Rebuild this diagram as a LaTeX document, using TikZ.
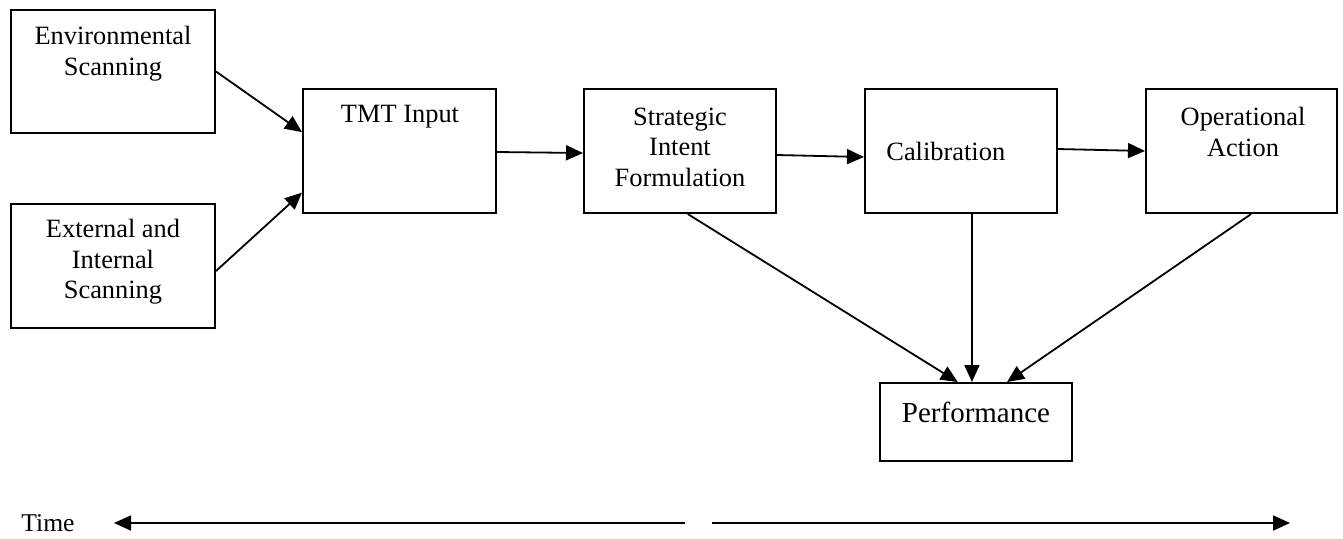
\documentclass[tikz,border=0pt]{standalone}
\usepackage{fontspec}
\setmainfont{Liberation Serif}
\usetikzlibrary{arrows.meta,calc}
\begin{document}
\begin{tikzpicture}[x=0.5pt,y=-0.5pt,
  box/.style={draw,line width=1pt,inner sep=0pt,minimum width=96pt,minimum height=62pt},
  lbl/.style={align=center,font=\fontsize{13.2}{15.3}\selectfont,inner sep=0pt},
  arr/.style={line width=0.9pt,-{Triangle[length=8.5pt,width=7.5pt]}}]
\useasboundingbox (0,0) rectangle (1343,538);
% boxes
\node[box,minimum width=102pt,minimum height=61.5pt] (env) at (113,71.5) {};
\node[box,minimum width=102pt] (ext) at (113,266) {};
\node[box,minimum width=96.5pt] (tmt) at (399.5,151) {};
\node[box] (sif) at (680,151) {};
\node[box] (cal) at (961,151) {};
\node[box,minimum width=95.5pt] (opa) at (1241.5,151) {};
\node[box,minimum height=39pt] (perf) at (976,422) {};
% labels
\node[lbl] (envt) at (113,53.5) {Environmental\\Scanning};
\node[lbl] (extt) at (113,262) {External and\\Internal\\Scanning};
\node[lbl] (tmtt) at (400,117) {TMT Input};
\node[lbl] (sift) at (680,147) {Strategic\\Intent\\Formulation};
\node[lbl,anchor=west] (calt) at (886,151) {Calibration};
\node[lbl] (opat) at (1243,132) {Operational\\Action};
\node[lbl,font=\fontsize{14.5}{17}\selectfont] (perft) at (976,412) {Performance};
\node[lbl,font=\fontsize{12.8}{15}\selectfont] (time) at (48,523) {Time};
% connectors
\draw[arr] (env.east) -- ($(tmt.north west)!0.35!(tmt.south west)$);
\draw[arr] ($(ext.east)+(0,5)$) -- ($(tmt.north west)!0.83!(tmt.south west)$);
\draw[arr] ($(tmt.east)+(0,1)$) -- ($(sif.west)+(0,2)$);
\draw[arr] ($(sif.east)+(0,4)$) -- ($(cal.west)+(0,6)$);
\draw[arr] ($(cal.east)+(0,-2)$) -- (opa.west);
\draw[arr] ($(sif.south west)!0.54!(sif.south east)$) -- ($(perf.north west)!0.406!(perf.north east)$);
\draw[arr] ($(cal.south west)!0.557!(cal.south east)$) -- ($(perf.north west)!0.479!(perf.north east)$);
\draw[arr] ($(opa.south west)!0.55!(opa.south east)$) -- ($(perf.north west)!0.66!(perf.north east)$);
% time axis
\coordinate (lstart) at (685,523);
\coordinate (ltip) at (114,523);
\coordinate (rstart) at (712,523);
\coordinate (rtip) at (1290,523);
\draw[arr] (lstart) -- (ltip);
\draw[arr] (rstart) -- (rtip);
\end{tikzpicture}
\end{document}
